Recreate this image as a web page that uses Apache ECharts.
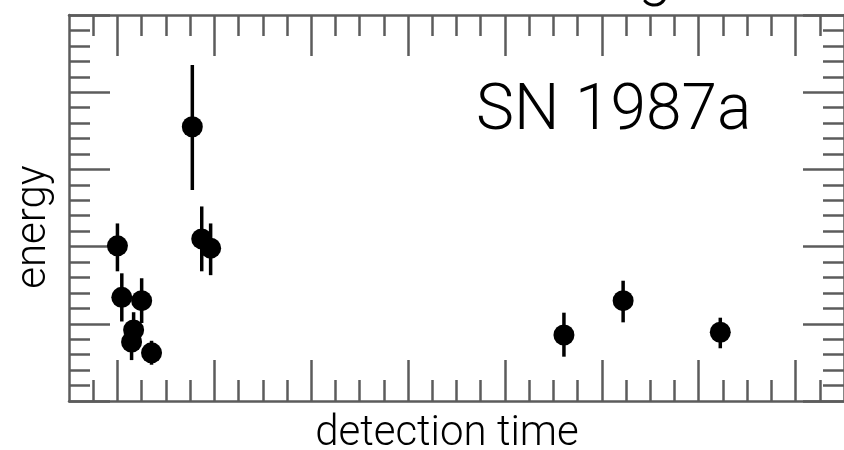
<!DOCTYPE html>
<html>
<head>
<meta charset="utf-8">
<script src="https://cdn.jsdelivr.net/npm/echarts@6/dist/echarts.min.js"></script>
<style>
  html, body { margin: 0; padding: 0; background: #fff; }
  #chart { width: 844px; height: 450px; }
</style>
</head>
<body>
<div id="chart"></div>
<script>
// Neutrino events from SN 1987a: detection time vs. energy (arbitrary units)
const detectionTime = [0.00, 0.045, 0.25, 0.167, 0.146, 0.352, 0.773, 0.87, 0.962, 4.609, 5.22, 6.223];
const energy        = [2.01, 1.343, 1.30, 0.92, 0.764, 0.624, 3.553, 2.10, 1.98, 0.855, 1.30, 0.89];
const energyLow     = [1.68, 1.03, 1.01, 0.66, 0.53, 0.47, 2.733, 1.68, 1.63, 0.574, 1.019, 0.683];
const energyHigh    = [2.30, 1.654, 1.59, 1.15, 0.98, 0.78, 4.352, 2.52, 2.30, 1.144, 1.558, 1.079];

// Tick positions (unlabelled) for the time axis
const timeMajorTicks = [0, 1, 2, 3, 4, 5, 6, 7];
const timeMinorTicks = [-0.25, 0.25, 0.5, 0.75, 1.25, 1.5, 1.75, 2.25, 2.5, 2.75, 3.25, 3.5, 3.75,
                        4.25, 4.5, 4.75, 5.25, 5.5, 5.75, 6.25, 6.5, 6.75, 7.25];

const FRAME = '#5c5c5c';
const TEXT_FONT = 'Roboto, "Liberation Sans", sans-serif';

const points = detectionTime.map((t, i) => [t, energy[i]]);
const bars = detectionTime.map((t, i) => [t, energyLow[i], energyHigh[i]]);

function timeAxis(position, ticks, len, showLine) {
  return {
    type: 'value', position: position, min: -0.5, max: 7.5,
    axisLine: { show: showLine, onZero: false, lineStyle: { color: FRAME, width: 2.5 } },
    axisTick: { show: true, inside: true, length: len, customValues: ticks,
                lineStyle: { color: FRAME, width: 2.5 } },
    axisLabel: { show: false }, splitLine: { show: false }
  };
}
function energyAxis(position) {
  return {
    type: 'value', position: position, min: 0, max: 5, interval: 1,
    axisLine: { show: true, onZero: false, lineStyle: { color: FRAME, width: 2.5 } },
    axisTick: { show: true, inside: true, length: 41, lineStyle: { color: FRAME, width: 2.5 } },
    minorTick: { show: true, splitNumber: 5, length: 21, lineStyle: { color: FRAME, width: 2.5 } },
    axisLabel: { show: false }, splitLine: { show: false }, minorSplitLine: { show: false }
  };
}

const chart = echarts.init(document.getElementById('chart'), null, { renderer: 'canvas' });
chart.setOption({
  animation: false,
  grid: { left: 69, top: 15, width: 777, height: 386 },
  xAxis: [
    timeAxis('bottom', timeMajorTicks, 41, true),
    timeAxis('bottom', timeMinorTicks, 21, false),
    timeAxis('top', timeMajorTicks, 41, true),
    timeAxis('top', timeMinorTicks, 21, false)
  ],
  yAxis: [energyAxis('left'), energyAxis('right')],
  series: [
    {
      type: 'custom', xAxisIndex: 0, yAxisIndex: 0, data: bars,
      renderItem: function (params, api) {
        const top = api.coord([api.value(0), api.value(2)]);
        const bottom = api.coord([api.value(0), api.value(1)]);
        return {
          type: 'line',
          shape: { x1: top[0], y1: top[1], x2: bottom[0], y2: bottom[1] },
          style: { stroke: '#000', lineWidth: 3.5 }
        };
      }
    },
    {
      type: 'scatter', xAxisIndex: 0, yAxisIndex: 0, data: points,
      symbol: 'circle', symbolSize: 21, itemStyle: { color: '#000', opacity: 1 }
    }
  ],
  graphic: [
    { type: 'text', left: 476, top: 81,
      style: { text: 'SN 1987a', font: '300 64px ' + TEXT_FONT, fill: '#000' } },
    { type: 'text', x: 447, y: 434,
      style: { text: 'detection time', font: '300 42px ' + TEXT_FONT, fill: '#000',
               align: 'center', verticalAlign: 'middle' } },
    { type: 'text', x: 34, y: 227, rotation: Math.PI / 2,
      style: { text: 'energy', font: '300 42px ' + TEXT_FONT, fill: '#000',
               align: 'center', verticalAlign: 'middle' } },
    { type: 'text', x: 655, y: -51,
      style: { text: 'g', font: '300 60px ' + TEXT_FONT, fill: '#000',
               align: 'center', verticalAlign: 'top' } }
  ]
});
</script>
</body>
</html>
